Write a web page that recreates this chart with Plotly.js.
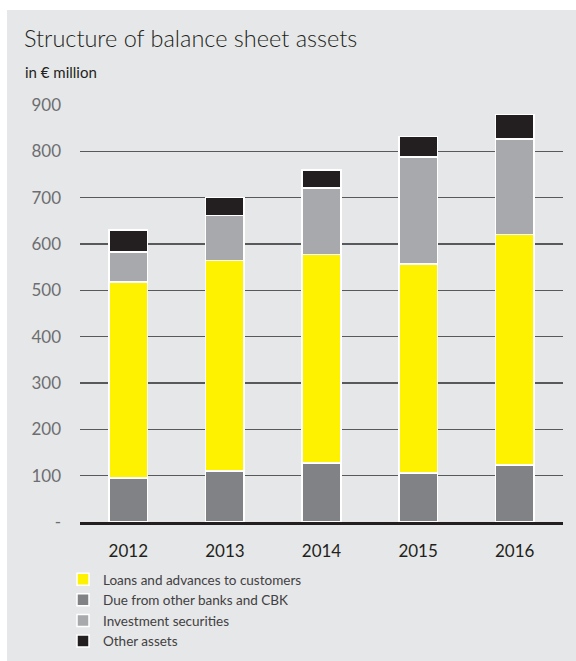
<!DOCTYPE html>
<html>
<head>
<meta charset="utf-8">
<script src="https://cdn.plot.ly/plotly-3.0.1.min.js"></script>
<style>
  html, body { margin: 0; padding: 0; background: #ffffff; }
  #wrap { position: absolute; left: 7px; top: 10px; width: 569px; height: 651px; background: #e6e7e8; }
  #chart { width: 569px; height: 651px; }
</style>
</head>
<body>
<div id="wrap"><div id="chart"></div></div>
<script>
const years = ['2012', '2013', '2014', '2015', '2016'];
const dueFromBanks = [95, 110, 127, 106, 123];
const loans = [423, 454, 450, 451, 497];
const investment = [65, 97, 144, 231, 207];
const otherAssets = [47, 39, 39, 44, 52];
const yTickVals = [0, 100, 200, 300, 400, 500, 600, 700, 800, 900];
const yTickText = ['-', '100', '200', '300', '400', '500', '600', '700', '800', '900'];

const FONT = 'Lato, "Open Sans", sans-serif';
const line = { color: '#ffffff', width: 1.5 };

const traces = [
  { type: 'bar', name: 'Due from other banks and CBK', x: years, y: dueFromBanks,
    marker: { color: '#808285', line: line }, legendrank: 2 },
  { type: 'bar', name: 'Loans and advances to customers', x: years, y: loans,
    marker: { color: '#fff200', line: line }, legendrank: 1 },
  { type: 'bar', name: 'Investment securities', x: years, y: investment,
    marker: { color: '#a7a9ac', line: line }, legendrank: 3 },
  { type: 'bar', name: 'Other assets', x: years, y: otherAssets,
    marker: { color: '#231f20', line: line }, legendrank: 4 }
];

const W = 569, H = 651;
const mL = 73, mR = 13, mT = 95, mB = 139;
const pw = W - mL - mR, ph = H - mT - mB;
const px = v => (v - mL) / pw;
const py = v => (H - mB - v) / ph;

const layout = {
  width: W, height: H,
  paper_bgcolor: '#e6e7e8', plot_bgcolor: '#e6e7e8',
  margin: { l: mL, r: mR, t: mT, b: mB, pad: 0, autoexpand: false },
  barmode: 'stack', bargap: 0.6,
  font: { family: FONT, color: '#231f20' },
  title: {
    text: 'Structure of balance sheet assets',
    font: { family: FONT, size: 23.5, weight: 300, color: '#231f20' },
    xref: 'container', yref: 'container',
    x: 17 / W, xanchor: 'left', y: 1 - 21 / H, yanchor: 'top'
  },
  annotations: [{
    text: 'in € million', showarrow: false,
    xref: 'paper', yref: 'paper', x: px(16), y: py(62),
    xanchor: 'left', yanchor: 'middle',
    font: { family: FONT, size: 15, color: '#231f20' }
  }],
  xaxis: {
    type: 'category', range: [-0.5, 4.5], fixedrange: true,
    showgrid: false, zeroline: false,
    showline: true, linecolor: '#231f20', linewidth: 3,
    ticks: '', ticklabelstandoff: 12,
    tickfont: { family: FONT, size: 17, color: '#231f20' }
  },
  yaxis: {
    range: [0, 900], fixedrange: true,
    tickvals: yTickVals, ticktext: yTickText,
    showgrid: true, gridcolor: '#58595b', gridwidth: 1.5,
    zeroline: false, showline: false, ticks: '',
    ticklabelstandoff: 18,
    tickfont: { family: FONT, size: 17, color: '#6d6e71' }
  },
  showlegend: true,
  legend: {
    orientation: 'v', traceorder: 'normal',
    xref: 'container', yref: 'container',
    x: 56 / W, xanchor: 'left', y: 1 - 554 / H, yanchor: 'top',
    bgcolor: 'rgba(0,0,0,0)', borderwidth: 0,
    font: { family: FONT, size: 13.5, color: '#414042' },
    itemclick: false, itemdoubleclick: false
  }
};

Plotly.newPlot('chart', traces, layout, { displayModeBar: false, staticPlot: true });
</script>
</body>
</html>
